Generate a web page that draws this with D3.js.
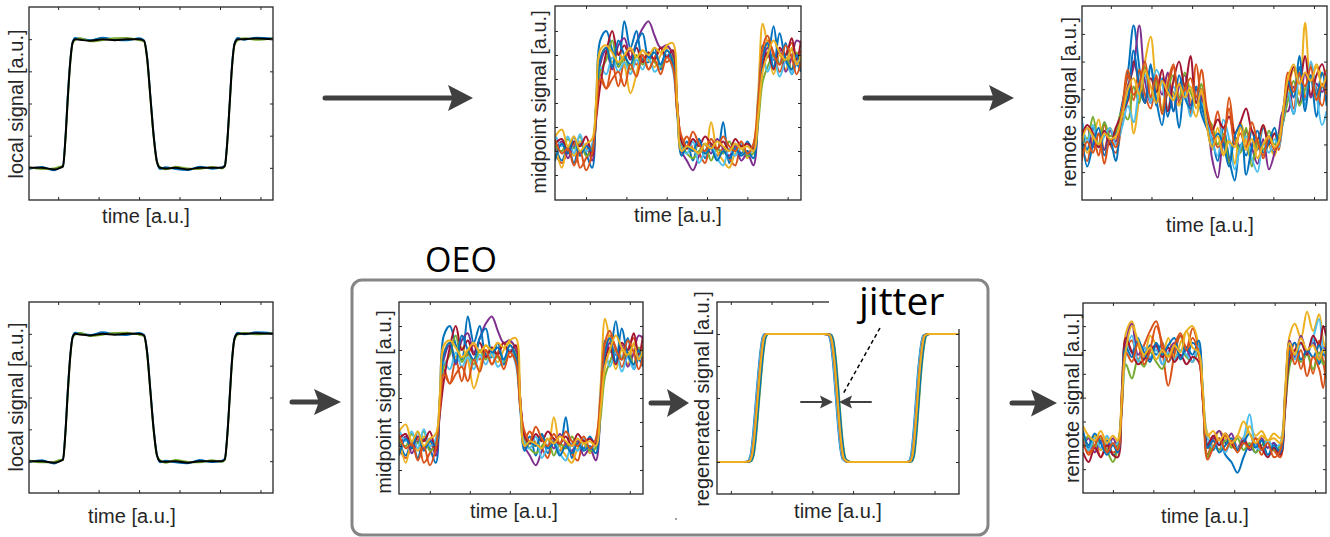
<!DOCTYPE html>
<html>
<head>
<meta charset="utf-8">
<script src="https://cdn.jsdelivr.net/npm/d3@7"></script>
<style>
  body { margin: 0; background: #fff; }
  svg { display: block; }
  .lbl { font-family: "Liberation Sans", Arial, sans-serif; font-size: 20px; fill: #262626; }
</style>
</head>
<body>
<div id="main"></div>
<script>
// MATLAB default line colours
const colors = ["#0072BD", "#D95319", "#EDB120", "#7E2F8E", "#77AC30", "#4DBEEE", "#A2142F", "#0072BD", "#D95319", "#EDB120"];

const xTicks = [0, 1, 2, 3, 4, 5];

// ---- local signal (clean square wave, black on top)
const tLocal = [-0.75,-0.4,-0.1,0.05,0.12,0.18,0.24,0.3,0.36,0.42,0.55,0.8,1.1,1.4,1.7,2.0,2.12,2.2,2.28,2.36,2.44,2.52,2.65,2.9,3.2,3.5,3.8,4.05,4.12,4.18,4.24,4.3,4.36,4.44,4.6,4.9,5.32];
const localBlack = [0,0,-0.05,0,0.05,0.9,2.2,3.3,3.9,4.0,3.98,3.95,4.0,3.97,4.0,4.0,3.95,3.4,2.2,1.0,0.2,0.0,-0.02,0,-0.05,0,0,0,0.06,0.8,2.0,3.2,3.85,4.0,4.0,4.02,4.0];
const localBlue = [-0.05,0.03,-0.08,0.02,0.07,0.95,2.3,3.35,3.92,4.04,4.02,3.97,4.05,3.99,3.96,4.03,3.97,3.45,2.25,1.05,0.22,-0.04,0.02,-0.04,-0.07,0.04,-0.03,0.02,0.08,0.85,2.05,3.25,3.88,4.04,3.98,4.05,4.02];
const localOrange = [0.03,-0.04,-0.02,0.04,0.03,0.85,2.1,3.25,3.88,3.97,4.03,3.93,3.97,4.03,4.04,3.97,3.93,3.35,2.15,0.95,0.18,0.03,-0.05,0.04,-0.02,-0.04,0.03,-0.02,0.04,0.75,1.95,3.15,3.82,3.97,4.03,3.98,4.03];
const localTraces = [localBlue, localOrange];

// ---- midpoint signal (same traces in top row and inside OEO)
const tMid = [-0.77,-0.6,-0.45,-0.3,-0.15,0.0,0.15,0.25,0.35,0.5,0.65,0.8,0.95,1.1,1.25,1.4,1.55,1.7,1.85,2.0,2.15,2.26,2.37,2.5,2.65,2.8,2.95,3.1,3.25,3.4,3.55,3.7,3.85,4.0,4.15,4.27,4.38,4.5,4.65,4.8,4.95,5.1,5.22,5.33];
const mid1 = [1.3,0.6,1.2,0.5,1.3,0.9,0.3, 3.0, 5.6,6.0,5.2,4.6,6.4,5.3,6.0,4.8,4.7,5.3,4.4,5.0,4.6, 2.8, 1.0,1.4,0.6,1.5,0.7,1.2,1.0,2.2,0.5,1.3,0.9,1.4,1.0, 3.1, 5.4,4.9,6.2,4.6,5.5,4.2,4.6,4.3];
const mid2 = [0.9,0.5,1.0,1.3,0.3,0.7,1.2, 2.6, 4.2,3.6,4.6,3.7,4.8,5.2,4.6,5.0,4.4,4.9,5.3,4.7,4.9, 2.9, 1.3,1.6,1.1,0.9,0.5,1.3,0.8,1.1,0.7,0.4,1.3,0.9,1.2, 2.8, 4.8,5.6,5.1,4.3,5.0,5.5,4.6,5.2];
const mid3 = [1.4,0.3,1.2,0.8,1.4,1.1,0.9, 3.0, 4.9,5.3,4.7,5.1,4.6,3.4,4.2,5.2,4.8,4.5,5.0,5.3,5.1, 2.9, 0.9,1.1,1.0,1.3,0.9,2.2,1.0,0.6,0.3,0.9,1.1,0.7,1.2, 3.5, 6.3,5.4,4.2,5.0,4.4,5.3,4.8,4.9];
const mid4 = [1.0,1.4,0.7,1.2,0.9,1.3,0.6, 2.6, 4.6,5.2,4.4,5.4,5.7,4.9,5.5,6.1,6.4,5.8,5.3,5.4,5.0, 3.0, 1.0,0.6,0.2,0.8,1.3,0.9,1.5,1.1,0.8,1.2,0.6,0.9,0.4, 2.4, 4.6,5.3,4.8,5.2,4.3,4.9,5.6,5.5];
const mid5 = [1.2,1.0,1.5,1.1,1.6,0.8,1.1, 2.8, 4.3,4.8,5.6,4.5,4.9,4.4,5.0,4.6,5.1,4.7,4.5,5.2,4.8, 2.9, 1.2,0.9,0.7,1.0,1.3,0.6,1.1,0.9,1.4,1.0,1.2,0.8,0.9, 2.2, 3.9,4.5,5.0,4.6,4.9,4.4,5.1,4.7];
const mid6 = [1.7,1.2,1.6,0.9,1.7,1.0,1.3, 2.9, 4.5,4.2,4.9,4.3,4.7,4.2,4.8,4.4,4.9,4.3,4.6,5.0,4.4, 2.7, 1.1,0.9,1.4,0.5,1.0,1.3,0.7,0.4,1.1,0.8,1.3,0.9,1.1, 3.2, 5.0,4.3,4.9,4.1,4.7,4.2,4.8,4.5];
const mid7 = [1.3,1.5,0.9,1.4,1.2,1.6,0.8, 2.3, 3.7,5.1,6.0,5.0,5.4,4.8,5.3,4.7,5.1,4.8,5.3,4.9,5.2, 3.0, 1.4,1.1,1.5,1.2,1.6,1.3,1.1,1.4,1.0,1.5,1.2,1.3,1.1, 2.9, 4.6,5.1,4.4,5.3,5.0,5.7,4.8,5.6];
const mid8 = [0.6,1.3,0.9,1.6,0.8,1.2,1.0, 2.8, 4.8,5.3,4.5,5.6,5.0,4.6,5.5,5.9,4.9,5.1,4.6,5.2,4.7, 2.6, 0.8,1.2,1.0,1.5,0.9,1.1,0.6,1.0,0.7,1.1,0.8,1.0,0.7, 2.7, 4.9,5.5,4.5,5.9,4.8,4.4,5.0,4.3];
const mid9 = [1.5,0.9,1.1,0.4,1.0,0.2,0.9, 2.5, 4.0,3.6,4.0,4.3,3.7,4.6,4.1,5.0,4.4,4.8,4.2,4.9,4.5, 2.6, 1.6,1.2,1.8,1.3,1.0,1.5,1.1,1.6,1.2,1.0,1.4,0.9,1.3, 3.1, 5.3,5.8,5.0,4.6,5.4,4.9,4.2,4.7];
const mid10 = [1.6,1.9,1.2,1.6,1.0,1.3,1.5, 3.1, 5.2,5.4,5.1,4.7,5.0,5.3,4.9,5.2,5.0,5.3,5.1,5.4,5.5, 3.0, 1.0,1.2,1.1,0.9,1.3,1.1,1.4,1.2,1.0,1.3,1.1,1.2,1.0, 2.5, 4.3,5.0,5.6,5.1,4.8,5.2,4.6,5.0];
const midTraces = [mid1, mid2, mid3, mid4, mid5, mid6, mid7, mid8, mid9, mid10];

// ---- remote signal, direct link (top row)
const tRemTop = [-0.72,-0.58,-0.44,-0.3,-0.16,-0.02,0.12,0.27,0.42,0.56,0.7,0.84,0.98,1.12,1.26,1.4,1.54,1.68,1.82,1.96,2.1,2.23,2.36,2.49,2.63,2.77,2.91,3.05,3.19,3.33,3.47,3.61,3.75,3.89,4.03,4.13,4.24,4.36,4.5,4.64,4.78,4.92,5.06,5.2,5.31];
const rt1 = [2.0,0.8,1.6,0.9,1.8,1.1,1.4, 2.4, 3.6,5.3,3.8,2.6,3.9,2.4,3.4,2.0,2.9,1.6,3.2,2.2,3.0,2.1, 1.6, 1.2,0.4,1.6,0.5,-0.3,1.0,0.6,1.5,0.8,1.6,1.0,0.7,1.2, 1.8, 2.8,2.1,3.8,2.6,3.4,2.0,3.1,2.6];
const rt2 = [1.0,0.4,1.3,0.6,1.7,1.0,0.7, 1.8, 3.5,2.6,3.7,2.8,2.3,3.3,2.2,2.9,3.8,2.5,3.1,2.1,3.9,2.6, 2.0, 1.4,2.2,1.0,2.7,1.3,0.8,1.5,0.9,1.2,0.5,1.1,1.4,0.8, 2.0, 3.2,2.3,3.6,2.7,3.9,3.0,2.4,3.3];
const rt3 = [1.5,0.7,1.2,1.9,0.8,1.6,1.2, 2.2, 3.2,1.4,2.7,4.0,4.9,3.1,2.3,3.5,2.8,2.4,3.2,2.6,2.0,2.9, 1.8, 0.8,1.6,0.7,1.2,0.3,1.8,1.1,0.4,0.9,1.7,1.0,0.6,1.3, 2.3, 3.0,3.7,2.8,5.4,3.3,3.9,3.5,3.7];
const rt4 = [1.2,1.6,0.9,1.4,0.8,1.5,1.1, 2.0, 3.1,3.8,5.3,3.3,2.5,3.4,2.8,3.6,2.2,3.1,3.5,2.4,3.0,2.7, 2.2, 0.5,-0.2,1.1,0.4,1.3,0.8,1.5,0.9,0.3,1.2,0.1,0.7,1.4, 2.2, 2.2,3.1,2.5,3.6,2.7,3.2,2.9,3.4];
const rt5 = [1.6,1.2,2.0,1.0,1.8,1.3,1.5, 2.2, 1.9,3.1,2.5,3.8,2.6,3.3,2.2,3.0,3.5,2.7,3.6,2.9,2.5,3.2, 2.0, 1.7,1.0,1.4,0.3,1.2,0.7,1.6,0.2,1.1,0.8,1.5,1.0,1.3, 1.8, 2.6,3.3,2.4,3.0,3.5,2.6,3.2,2.9];
const rt6 = [1.9,1.1,1.7,0.9,1.3,1.6,1.0, 1.6, 2.4,1.8,3.0,3.5,2.5,3.7,3.2,2.3,3.1,2.6,2.9,2.0,2.7,2.5, 2.0, 1.1,0.6,1.9,1.2,0.1,0.9,1.3,0.5,0.0,1.0,0.7,1.2,0.9, 1.9, 2.9,2.1,3.5,2.4,4.0,2.8,1.7,2.2];
const rt7 = [1.3,1.7,1.4,0.9,1.5,1.0,1.6, 2.1, 2.6,4.0,3.2,2.5,3.4,2.9,3.7,2.2,3.3,4.0,3.1,4.2,2.5,3.0, 2.2, 1.5,1.9,1.6,2.0,1.4,1.8,2.3,1.5,1.2,1.7,1.0,1.4,1.2, 2.1, 3.1,3.8,3.2,4.2,2.8,3.5,3.9,3.1];
const rt8 = [1.4,0.2,1.0,1.6,0.6,1.2,0.4, 2.1, 2.7,4.4,3.1,2.5,3.8,2.6,1.7,3.0,2.2,3.5,2.7,2.3,3.1,2.4, 1.7, 0.9,1.4,1.0,0.2,1.3,1.7,-0.1,0.9,1.5,0.7,1.1,1.6,1.0, 2.2, 3.3,2.7,4.2,2.2,3.5,2.8,3.6,2.4];
const rt9 = [0.4,1.1,0.7,1.4,0.3,1.2,0.9, 2.2, 3.7,2.8,3.2,4.0,2.7,3.5,2.1,3.2,3.9,2.6,3.0,3.4,2.7,3.7, 2.3, 1.5,0.9,1.2,2.3,1.0,1.4,0.9,1.8,1.1,0.6,1.3,0.8,1.0, 2.1, 3.6,2.9,3.5,3.1,3.8,2.6,3.2,2.8];
const rt10 = [1.1,1.6,1.3,1.0,1.4,1.2,1.3, 2.0, 3.0,3.4,2.8,3.7,3.1,2.5,3.3,2.9,2.6,3.2,2.7,3.1,2.3,3.0, 1.7, 0.9,1.3,0.6,1.1,0.9,1.6,0.8,1.2,0.5,1.0,1.3,0.9,1.1, 2.2, 3.4,3.9,3.2,3.6,3.3,3.8,3.1,3.5];
const remTopTraces = [rt1, rt2, rt3, rt4, rt5, rt6, rt7, rt8, rt9, rt10];

// ---- remote signal after OEO (bottom row)
const tRemBot = [-0.74,-0.6,-0.45,-0.3,-0.15,0.0,0.12,0.22,0.32,0.47,0.62,0.77,0.92,1.07,1.22,1.37,1.52,1.67,1.82,1.97,2.12,2.23,2.34,2.48,2.63,2.78,2.93,3.08,3.23,3.38,3.53,3.68,3.83,3.98,4.14,4.26,4.37,4.5,4.65,4.8,4.95,5.1,5.2,5.27];
const rb1 = [1.3,0.9,1.4,0.8,1.2,0.6,0.8, 3.0, 5.4,4.9,5.5,4.6,5.2,4.8,5.3,4.5,5.0,5.6,4.7,5.3,4.9, 3.0, 1.0,0.8,1.3,0.6,0.3,-0.15,0.5,1.0,0.7,1.2,0.9,1.1,0.8, 3.1, 5.2,4.7,5.3,4.9,5.5,4.4,5.0,4.6];
const rb2 = [1.1,0.7,1.2,0.5,1.0,0.7,0.9, 2.7, 5.0,5.4,4.6,5.2,5.8,6.2,5.0,3.5,4.8,5.6,5.1,5.9,5.0, 2.8, 0.6,1.2,0.8,1.4,1.0,0.8,1.3,0.9,1.1,0.6,1.2,0.8,0.5, 3.0, 4.6,5.3,4.2,5.0,4.0,5.4,4.5,3.8];
const rb3 = [1.5,1.0,1.4,0.8,1.3,1.0,1.2, 3.2, 5.7,6.2,5.2,4.7,5.6,5.2,4.8,5.5,4.6,5.3,5.8,6.0,5.2, 2.9, 1.5,1.2,1.6,1.3,1.0,1.4,1.2,1.8,1.4,1.6,1.2,1.5,1.3, 3.4, 5.6,6.1,5.5,6.6,5.8,6.5,5.4,5.0];
const rb4 = [0.9,1.3,0.7,1.2,0.8,1.3,0.9, 2.9, 5.3,6.1,4.8,5.1,4.6,5.2,4.4,4.9,5.3,4.7,5.0,4.5,5.2, 2.8, 0.9,1.3,1.6,1.1,1.5,0.9,1.3,0.8,1.0,1.3,0.9,1.1,0.7, 3.0, 5.4,4.7,5.6,4.9,5.3,4.6,5.1,5.0];
const rb5 = [1.0,1.4,0.9,1.3,0.8,0.3,0.9, 2.5, 4.4,3.8,4.6,4.3,4.9,4.5,4.2,4.8,4.6,5.0,4.7,4.5,4.9, 2.9, 0.5,1.0,0.8,1.2,0.9,1.3,0.8,1.1,0.7,1.0,1.2,0.8,1.0, 2.6, 4.3,5.0,4.5,4.8,4.2,4.9,4.4,4.6];
const rb6 = [1.2,0.8,1.3,0.9,1.4,1.0,1.1, 2.8, 4.8,5.6,4.5,5.1,4.7,5.0,4.4,4.9,4.6,5.0,4.8,4.5,5.2, 3.1, 1.3,0.9,1.1,0.7,1.2,0.9,1.3,2.3,1.0,0.8,1.2,0.9,1.1, 3.2, 5.0,4.6,5.3,4.8,5.5,6.3,5.0,4.8];
const rb7 = [0.7,0.3,0.9,0.5,1.0,0.6,0.5, 3.3, 5.5,4.9,4.4,4.6,5.0,5.2,4.7,5.1,4.5,4.8,4.4,4.7,4.5, 2.8, 1.0,1.4,1.0,1.5,1.1,0.8,1.2,0.9,1.3,0.9,0.5,0.9,0.6, 2.5, 4.6,5.0,5.3,4.8,5.6,5.2,6.0,5.6];
const rb8 = [1.6,1.0,1.5,1.1,0.6,1.0,0.7, 2.8, 5.1,4.7,5.4,4.9,4.5,5.3,4.8,5.2,5.5,4.6,5.1,4.8,5.4, 3.0, 0.9,1.2,0.7,1.0,1.3,0.8,1.1,1.5,0.9,1.2,0.6,1.0,0.7, 2.9, 4.9,5.3,4.6,5.0,4.7,5.2,4.8,4.9];
const rb9 = [1.2,0.6,1.0,1.4,0.7,1.1,0.8, 2.6, 4.9,4.5,5.3,4.4,5.0,6.0,5.3,4.5,5.2,5.7,5.0,5.5,4.8, 2.7, 0.4,0.9,1.3,0.8,1.2,0.7,1.1,0.9,1.3,0.8,1.1,0.5,0.8, 3.0, 5.1,4.4,5.0,3.9,4.7,4.2,3.4,4.8];
const rb10 = [1.8,1.4,1.2,1.6,1.1,1.4,1.2, 3.0, 5.0,6.0,5.4,4.8,5.1,4.6,5.0,4.7,5.2,4.9,5.8,5.1,4.9, 3.2, 1.4,1.6,1.2,1.5,1.1,1.4,2.0,1.5,1.1,1.4,1.2,1.3,1.1, 3.2, 5.3,4.8,5.5,5.0,5.2,4.6,5.0,4.8];
const remBotTraces = [rb1, rb2, rb3, rb4, rb5, rb6, rb7, rb8, rb9, rb10];

// ---- regenerated signal: one clean shape, small timing jitter per trace
const tRegen = [-0.34,0.3,0.45,0.52,0.58,0.64,0.7,0.76,0.82,0.88,1.0,2.3,2.42,2.48,2.54,2.6,2.66,2.72,2.78,2.9,4.3,4.4,4.46,4.52,4.58,4.64,4.7,4.76,4.86,5.6];
const yRegen = [0,0,0.02,0.2,0.8,1.7,2.6,3.4,3.9,4.0,4.0,4.0,3.98,3.8,3.2,2.3,1.3,0.5,0.1,0,0,0.02,0.2,0.9,1.9,2.9,3.6,3.95,4.0,4.0];
const regenJitter = [-0.04,-0.02,0.0,0.02,0.04,-0.03,0.01,0.03,-0.01,0.0];

const W = 1330, H = 537;
const svg = d3.select("#main").append("svg").attr("width", W).attr("height", H);

let clipId = 0;
function panel(p) {
  const w = p.x1 - p.x0, h = p.y1 - p.y0;
  const x = d3.scaleLinear().domain(p.xd).range([0, w]);
  const y = d3.scaleLinear().domain(p.yd).range([h, 0]);
  const g = svg.append("g").attr("transform", "translate(" + p.x0 + "," + p.y0 + ")");

  const id = "clip" + (clipId++);
  g.append("clipPath").attr("id", id).append("rect").attr("width", w).attr("height", h);
  const plot = g.append("g").attr("clip-path", "url(#" + id + ")");

  const line = d3.line().curve(p.curve || d3.curveCatmullRom.alpha(0.5));
  p.series.forEach(function(s) {
    plot.append("path")
      .attr("d", line(s.t.map((t, i) => [x(t + (s.dt || 0)), y(s.v[i])])))
      .attr("fill", "none")
      .attr("stroke", s.c)
      .attr("stroke-width", s.sw || 2)
      .attr("stroke-linejoin", "round");
  });

  // MATLAB-style box with inward ticks on all four sides
  const axes = [
    [d3.axisBottom(x).tickValues(p.xt), "translate(0," + h + ")"],
    [d3.axisTop(x).tickValues(p.xt), null],
    [d3.axisLeft(y).tickValues(p.yt), null],
    [d3.axisRight(y).tickValues(p.yt), "translate(" + w + ",0)"]
  ];
  axes.forEach(function(a) {
    const ax = g.append("g").call(a[0].tickSize(-3).tickFormat(""));
    if (a[1]) ax.attr("transform", a[1]);
    ax.select(".domain").remove();
    ax.selectAll("line").attr("stroke", "#262626").attr("stroke-width", 1);
  });
  g.append("rect").attr("width", w).attr("height", h)
    .attr("fill", "none").attr("stroke", "#262626").attr("stroke-width", 1.3);

  svg.append("text").attr("class", "lbl")
    .attr("x", p.xl[0]).attr("y", p.xl[1])
    .attr("text-anchor", "middle")
    .text("time [a.u.]");
  svg.append("text").attr("class", "lbl")
    .attr("transform", "translate(" + p.yl[0] + "," + p.yl[1] + ") rotate(-90)")
    .attr("text-anchor", "middle")
    .text(p.ylabel);
}

function localSeries() {
  const s = localTraces.map((v, i) => ({ t: tLocal, v: v, c: colors[i * 4 % 7], sw: 1.8 }));
  s.push({ t: tLocal, v: localBlack, c: "#000", sw: 2 });
  return s;
}
function multi(t, traces) {
  return traces.map((v, i) => ({ t: t, v: v, c: colors[i] }));
}

// top row
panel({ x0: 29, x1: 273, y0: 7, y1: 200, xd: [-0.72, 5.31], yd: [-1, 5], xt: xTicks, yt: [0, 1, 2, 3, 4],
  series: localSeries(), curve: d3.curveMonotoneX, xl: [146, 223], yl: [23, 104], ylabel: "local signal [a.u.]" });
panel({ x0: 555, x1: 801, y0: 6, y1: 200, xd: [-0.77, 5.33], yd: [-1.04, 7.04], xt: xTicks, yt: [0, 1, 2, 3, 4, 5, 6],
  series: multi(tMid, midTraces), xl: [678, 222], yl: [546, 102], ylabel: "midpoint signal [a.u.]" });
panel({ x0: 1082, x1: 1327, y0: 6, y1: 200, xd: [-0.71, 5.32], yd: [-1.01, 6.01], xt: xTicks, yt: [0, 1, 2, 3, 4, 5],
  series: multi(tRemTop, remTopTraces), xl: [1210, 232], yl: [1076, 102], ylabel: "remote signal [a.u.]" });

// bottom row
panel({ x0: 29, x1: 273, y0: 302, y1: 493, xd: [-0.72, 5.31], yd: [-1, 5], xt: xTicks, yt: [0, 1, 2, 3, 4],
  series: localSeries(), curve: d3.curveMonotoneX, xl: [132, 523], yl: [23, 397], ylabel: "local signal [a.u.]" });
panel({ x0: 399, x1: 643, y0: 302, y1: 494, xd: [-0.77, 5.33], yd: [-1, 7], xt: xTicks, yt: [0, 1, 2, 3, 4, 5, 6],
  series: multi(tMid, midTraces), xl: [514, 518], yl: [391, 402], ylabel: "midpoint signal [a.u.]" });
panel({ x0: 717, x1: 959, y0: 302, y1: 494, xd: [-0.34, 5.6], yd: [-1, 5], xt: xTicks, yt: [0, 1, 2, 3, 4],
  series: regenJitter.map((d, i) => ({ t: tRegen, v: yRegen, dt: d, c: colors[i] })),
  curve: d3.curveMonotoneX, xl: [838, 518], yl: [709, 399], ylabel: "regenerated signal [a.u.]" });
panel({ x0: 1083, x1: 1326, y0: 303, y1: 493, xd: [-0.74, 5.27], yd: [-1, 6.97], xt: xTicks, yt: [0, 1, 2, 3, 4, 5, 6],
  series: multi(tRemBot, remBotTraces), xl: [1205, 523], yl: [1079, 398], ylabel: "remote signal [a.u.]" });

// OEO frame
svg.append("rect").attr("x", 352).attr("y", 280).attr("width", 636).attr("height", 255)
  .attr("rx", 10).attr("fill", "none").attr("stroke", "#858585").attr("stroke-width", 3);
svg.append("text").attr("x", 461).attr("y", 272).attr("text-anchor", "middle")
  .style("font-family", "'Open Sans', sans-serif").style("font-size", "34px").attr("fill", "#000")
  .text("OEO");
svg.append("circle").attr("cx", 676).attr("cy", 519).attr("r", 1).attr("fill", "#888");

// jitter annotation (white patch hides the corner of the regenerated plot)
svg.append("rect").attr("x", 829).attr("y", 284).attr("width", 134).attr("height", 45).attr("fill", "#fff");
svg.append("text").attr("x", 859).attr("y", 315)
  .style("font-family", "'Open Sans', sans-serif").style("font-size", "39px").attr("fill", "#000")
  .text("jitter");
svg.append("line").attr("x1", 880).attr("y1", 328).attr("x2", 843).attr("y2", 394)
  .attr("stroke", "#000").attr("stroke-width", 1.5).attr("stroke-dasharray", "4,3");

// arrows: tail x, tip x, y, head length, head half-height, shaft width
const arrowColor = "#404040";
function arrow(x0, x1, yy, L, hh, sw) {
  const dir = x1 > x0 ? 1 : -1;
  svg.append("line").attr("x1", x0).attr("y1", yy).attr("x2", x1 - dir * L * 0.6).attr("y2", yy)
    .attr("stroke", arrowColor).attr("stroke-width", sw).attr("stroke-linecap", "round");
  const b = x1 - dir * L;
  svg.append("path")
    .attr("d", "M" + x1 + "," + yy + "L" + b + "," + (yy - hh) + "L" + (b + dir * L * 0.18) + "," + yy +
      "L" + b + "," + (yy + hh) + "Z")
    .attr("fill", arrowColor);
}
arrow(325, 473, 98, 25, 13, 5);
arrow(865, 1014, 98, 25, 13, 5);
arrow(292, 341, 402, 27, 13, 5);
arrow(651, 689, 403, 22, 14, 5);
arrow(1012, 1057, 403, 26, 13.5, 5);
arrow(801, 833, 402, 13, 6.5, 2);
arrow(871, 839, 402, 13, 6.5, 2);
</script>
</body>
</html>
